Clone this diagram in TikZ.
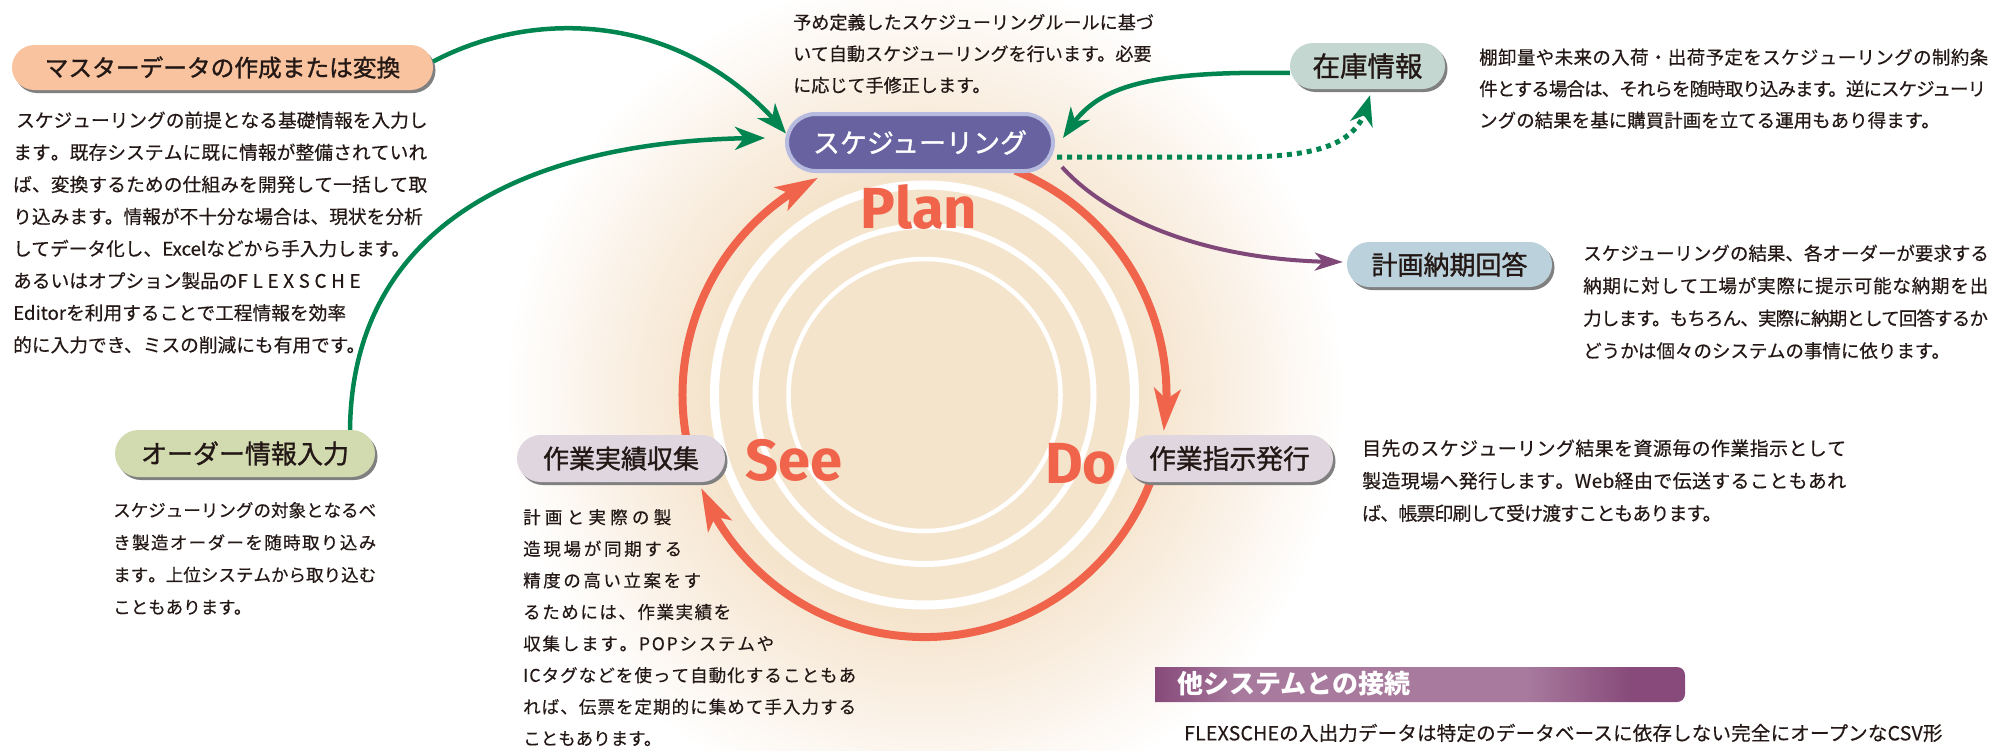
\documentclass[tikz,border=0pt]{standalone}
\usepackage{fontspec}
\setmainfont{Noto Sans CJK JP}
\newfontfamily\pdsfont{Fira Sans}
\usetikzlibrary{arrows.meta,bending,shadows,calc}

\definecolor{txt}{RGB}{35,24,21}
\definecolor{cmaster}{RGB}{248,195,158}
\definecolor{corder}{RGB}{210,218,176}
\definecolor{clav}{RGB}{224,214,224}
\definecolor{czaiko}{RGB}{196,216,209}
\definecolor{ckeik}{RGB}{187,209,219}
\definecolor{csched}{RGB}{104,98,160}
\definecolor{csbord}{RGB}{183,187,224}
\definecolor{cgreen}{RGB}{0,133,80}
\definecolor{cpurp}{RGB}{127,72,121}
\definecolor{cred}{RGB}{240,100,75}
\definecolor{pch}{RGB}{245,228,204}
\definecolor{pch2}{RGB}{250,241,230}
\definecolor{pd}{RGB}{135,74,122}
\definecolor{pl}{RGB}{168,122,158}
\definecolor{shd}{RGB}{128,128,128}

\pgfdeclareradialshading{glow}{\pgfpoint{0bp}{0bp}}{color(0bp)=(pch); color(13bp)=(pch); color(19bp)=(pch2); color(25bp)=(white); color(50bp)=(white)}
\pgfdeclarehorizontalshading{barshade}{100bp}{color(0bp)=(pd); color(25bp)=(pd); color(33bp)=(pl); color(60bp)=(pl); color(70bp)=(pd); color(100bp)=(pd)}

\newcommand\fsz[2]{\fontsize{#1}{#2}\selectfont}
% label font and description font (size, leading) with slight emboldening
\newcommand\lfs[2]{\fontsize{#1}{#2}\selectfont\addfontfeature{FakeBold=1.2}}
\newcommand\dfs[2]{\fontsize{#1}{#2}\selectfont\addfontfeature{FakeBold=0.4}}
\newcommand\lsp[2]{{\addfontfeature{LetterSpace=#1}#2}}
% spread the characters of #2 evenly over width #1 (justified line)
\makeatletter
\def\sprd#1#2{\makebox[#1][s]{\sprd@a#2\sprd@end}}
\def\sprd@a#1{\ifx#1\sprd@end\else#1\expandafter\sprd@b\fi}
\def\sprd@b#1{\ifx#1\sprd@end\else\hfill#1\expandafter\sprd@b\fi}
\makeatother

\begin{document}
\begin{tikzpicture}[x=1pt,y=1pt,
  pill/.style={rectangle, inner sep=0pt, text=txt,
    drop shadow={shadow xshift=2.5pt,shadow yshift=-3pt,fill=shd,opacity=1}},
  desc/.style={anchor=north west, inner sep=0pt, align=left, text=txt},
  grn/.style={draw=cgreen, line width=4.5pt, -{Stealth[length=30pt,width=23pt,inset=9pt]}},
  purp/.style={draw=cpurp, line width=4pt, -{Stealth[length=28pt,width=18pt,inset=8pt]}},
  redarc/.style={draw=cred, line width=8pt, -{Stealth[length=42pt,width=26pt,inset=10pt]}},
  pds/.style={anchor=base, inner sep=0pt, text=cred, font=\fontsize{58}{60}\pdsfont\bfseries}]
\useasboundingbox (0,0) rectangle (2013,-750);
\coordinate (cc) at (924.5,-395);

% glow
\begin{scope}
\clip (0,0) rectangle (2013,-750);
\shade[shading=glow] (cc) circle (420);
\end{scope}

% white rings
\draw[white, line width=4.5pt] (cc) circle (136);
\draw[white, line width=6pt] (cc) circle (169);
\draw[white, line width=9pt] (cc) circle (210);

% red cycle arcs
\draw[redarc] ($(cc)+(68:242)$) arc[start angle=68, end angle=-8.6, radius=242];
\draw[redarc] ($(cc)+(-20:242)$) arc[start angle=-20, end angle=-157.4, radius=242];
\draw[redarc] ($(cc)+(192:242)$) arc[start angle=192, end angle=116.1, radius=242];

% Plan Do See
\node[pds] (plan) at (919,-228) {Plan};
\node[pds] (do) at (1081,-483) {Do};
\node[pds] (see) at (794,-480) {See};

% boxes
\node[fill=csched, draw=csbord, line width=4pt, rounded corners=28.5pt,
  minimum width=266pt, minimum height=57pt, inner sep=0pt, text=white,
  font=\lfs{27}{28}] (sched) at (920,-142.5) {スケジューリング};
\node[pill, fill=cmaster, minimum width=421pt, minimum height=45pt, rounded corners=22.5pt,
  font=\lfs{23.7}{24}] (master) at (222.5,-67.5) {マスターデータの作成または変換};
\node[pill, fill=corder, minimum width=260pt, minimum height=47pt, rounded corners=23.5pt,
  font=\lfs{26}{27}] (order) at (245,-453.5) {オーダー情報入力};
\node[pill, fill=clav, minimum width=208pt, minimum height=47pt, rounded corners=23.5pt,
  font=\lfs{26}{27}] (jisseki) at (621,-458.5) {作業実績収集};
\node[pill, fill=clav, minimum width=207pt, minimum height=47pt, rounded corners=23.5pt,
  font=\lfs{26.8}{27}] (shiji) at (1229.5,-458.5) {作業指示発行};
\node[pill, fill=czaiko, minimum width=155pt, minimum height=46pt, rounded corners=23pt,
  font=\lfs{27.5}{28}] (zaiko) at (1367.5,-66) {在庫情報};
\node[pill, fill=ckeik, minimum width=205pt, minimum height=45pt, rounded corners=22.5pt,
  font=\lfs{26}{27}] (keikaku) at (1449.5,-264.5) {計画納期回答};

% connectors
\draw[grn] ($(master.east)+(0,6)$) .. controls (540,-5) and (690,-15) .. ($(sched.west)+(1,9)$);
\draw[grn] ($(order.north)+(105,0)$) .. controls (352,-230) and (520,-138) .. ($(sched.west)+(-20,4.5)$);
\draw[grn] ($(zaiko.west)+(0,-7)$) .. controls (1120,-70) and (1090,-95) .. ($(sched.east)+(8,4.5)$);
\draw[grn, dash pattern=on 5pt off 5pt, line width=5pt] ($(sched.east)+(2,-14.5)$) -- (1250,-157)
  .. controls (1330,-155) and (1362,-140) .. ($(zaiko.south)+(2.5,-6)$);
\draw[purp] ($(sched.east)+(7,-24.5)$) .. controls (1105,-215) and (1200,-262) .. ($(keikaku.west)+(-4,2.5)$);

% other-system bar
\shade[shading=barshade] (1155,-702) -- (1155,-667) -- (1677,-667) arc[start angle=90,end angle=0,radius=8]
  -- (1685,-694) arc[start angle=0,end angle=-90,radius=8] -- cycle;
\node[anchor=west, inner sep=0pt, text=white, font=\fsz{26}{27}\bfseries] (osys) at (1177,-684) {他システムとの接続};

% descriptions
\node[desc, font=\dfs{18.7}{32.1}] (mdesc) at (13,-104.6) {\strut\hspace*{3pt}\sprd{411pt}{スケジューリングの前提となる基礎情報を入力し}\\\sprd{414pt}{ます。既存システムに既に情報が整備されていれ}\\\sprd{414pt}{ば、変換するための仕組みを開発して一括して取}\\り込みます。情報が不十分な場合は、現状を分析\\してデータ化し、Excelなどから手入力します。\\あるいはオプション製品の\sprd{123pt}{FLEXSCHE}\\Editorを利用することで工程情報を効率\\的に入力でき、ミスの削減にも有用です。};

\node[desc, font=\dfs{18.1}{31.5}] (sdesc) at (793,-6.85) {\strut 予め定義したスケジューリングルールに基づ\\いて自動スケジューリングを行います。必要\\に応じて手修正します。};

\node[desc, font=\dfs{18.5}{31.5}] (zdesc) at (1479,-42) {\strut\sprd{509pt}{棚卸量や未来の入荷・出荷予定をスケジューリングの制約条}\\\lsp{-5}{件とする場合は、それらを随時取り込みます。逆にスケジューリ}\\ングの結果を基に購買計画を立てる運用もあり得ます。};

\node[desc, font=\dfs{18.5}{32.5}] (kdesc) at (1583,-237.3) {\strut スケジューリングの結果、各オーダーが要求する\\\sprd{405pt}{納期に対して工場が実際に提示可能な納期を出}\\\lsp{-4.5}{力します。もちろん、実際に納期として回答するか}\\どうかは個々のシステムの事情に依ります。};

\node[desc, font=\dfs{17.5}{32.3}] (odesc) at (113,-494) {\strut\sprd{263pt}{スケジューリングの対象となるべ}\\\sprd{263pt}{き製造オーダーを随時取り込み}\\\sprd{263pt}{ます。上位システムから取り込む}\\こともあります。};

\node[desc, font=\dfs{17.5}{31.6}] (jdesc) at (523,-501.5) {\strut\sprd{148pt}{計画と実際の製}\\\sprd{159pt}{造現場が同期する}\\\sprd{178pt}{精度の高い立案をす}\\\sprd{208pt}{るためには、作業実績を}\\\sprd{251pt}{収集します。POPシステムや}\\\sprd{333pt}{ICタグなどを使って自動化することもあ}\\\sprd{333pt}{れば、伝票を定期的に集めて手入力する}\\こともあります。};

\node[desc, font=\dfs{19}{32.5}] (shdesc) at (1362,-432.5) {\strut\sprd{484pt}{目先のスケジューリング結果を資源毎の作業指示として}\\\sprd{484pt}{製造現場へ発行します。Web経由で伝送することもあれ}\\\lsp{-5}{ば、帳票印刷して受け渡すこともあります。}};

\node[anchor=base west, inner sep=0pt, text=txt, font=\dfs{19.5}{20}] (ftext) at (1184,-740.4) {\lsp{1}{FLEXSCHEの入出力データは特定のデータベースに依存しない完全にオープンなCSV形}};
\end{tikzpicture}
\end{document}
